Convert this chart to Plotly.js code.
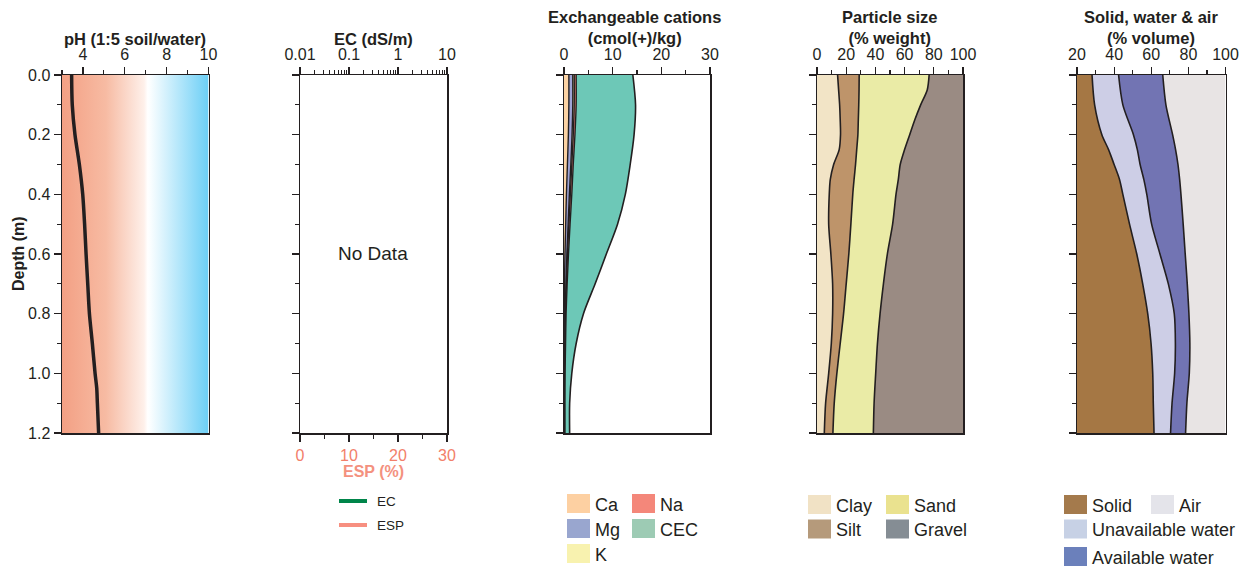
<!DOCTYPE html>
<html>
<head>
<meta charset="utf-8">
<script src="https://cdn.plot.ly/plotly-3.0.1.min.js"></script>
<style>html,body{margin:0;padding:0;background:#fff}#chart{width:1247px;height:570px}</style>
</head>
<body>
<div id="chart"></div>
<script>
// ---------------- DATA ----------------
const phDepth = [0, 0.1, 0.2, 0.3, 0.4, 0.5, 0.6, 0.7, 0.8, 0.9, 1.0, 1.05, 1.1, 1.2];
const phValue = [3.46, 3.49, 3.62, 3.83, 3.99, 4.08, 4.15, 4.23, 4.31, 4.45, 4.58, 4.66, 4.69, 4.75];

const catDepth = [0, 0.1, 0.2, 0.3, 0.4, 0.5, 0.6, 0.7, 0.8, 0.9, 1.0, 1.1, 1.2];
const caVal  = [1.0, 1.0, 0.9, 0.7, 0.5, 0.35, 0.2, 0.1, 0.05, 0.03, 0.02, 0.02, 0.02];
const mgVal  = [0.8, 0.8, 0.75, 0.7, 0.6, 0.5, 0.4, 0.3, 0.2, 0.15, 0.1, 0.08, 0.08];
const kVal   = [0.3, 0.3, 0.25, 0.2, 0.2, 0.15, 0.12, 0.1, 0.08, 0.06, 0.05, 0.05, 0.05];
const naVal  = [0.4, 0.4, 0.35, 0.3, 0.3, 0.25, 0.2, 0.15, 0.1, 0.08, 0.06, 0.05, 0.05];
const cecVal = [14.15, 14.7, 14.4, 13.6, 12.6, 11.0, 8.7, 6.4, 4.0, 2.5, 1.6, 1.16, 1.16];

const psDepth = [0, 0.05, 0.1, 0.15, 0.2, 0.25, 0.3, 0.35, 0.4, 0.5, 0.6, 0.7, 0.8, 0.9, 1.0, 1.1, 1.2];
const clayVal   = [14.1, 14.8, 15.5, 15.9, 16.1, 15.2, 11.4, 9.1, 8.4, 8.0, 9.5, 10.7, 10.7, 9.8, 8.0, 5.9, 5.0];
const siltVal   = [14.8, 14.0, 13.1, 12.4, 11.9, 12.0, 15.0, 16.3, 16.1, 15.2, 12.3, 9.3, 7.5, 6.1, 5.6, 5.9, 5.9];
const sandVal   = [47.9, 46.7, 42.4, 38.7, 35.5, 32.8, 30.6, 30.3, 29.6, 28.6, 26.4, 25.5, 25.0, 25.5, 26.6, 27.3, 27.7];
const gravelVal = [23.2, 24.5, 29.0, 33.0, 36.5, 40.0, 43.0, 44.3, 45.9, 48.2, 51.8, 54.5, 56.8, 58.6, 59.8, 60.9, 61.4];

const swDepth = [0, 0.1, 0.2, 0.25, 0.3, 0.35, 0.4, 0.5, 0.6, 0.7, 0.8, 0.9, 1.0, 1.1, 1.2];
const solidVal   = [28.1, 29.5, 33.4, 37.0, 40.0, 42.9, 44.7, 48.3, 52.2, 55.4, 58.1, 59.9, 60.8, 61.1, 61.5];
const unavailVal = [14.3, 15.2, 17.0, 15.5, 14.0, 13.1, 12.9, 11.9, 12.5, 13.8, 14.3, 13.1, 11.8, 10.1, 8.9];
const availVal   = [23.8, 23.2, 21.1, 20.6, 20.4, 19.3, 18.4, 17.0, 13.6, 10.2, 7.9, 7.8, 7.9, 8.0, 8.1];
const airVal     = [33.8, 32.1, 28.5, 26.9, 25.6, 24.7, 24.0, 22.8, 21.7, 20.6, 19.7, 19.2, 19.5, 20.8, 21.5];

const ecTickVals = [0.01, 0.1, 1, 10];
const ecTickText = ['0.01', '0.1', '1', '10'];

// ---------------- HELPERS ----------------
const W = 1247, H = 570;
const px = v => v / W;
const py = v => 1 - v / H;
const INK = '#231F20';
const FONT = 'Liberation Sans, Arial, Helvetica, sans-serif';

function cumulate(list) {
  const out = []; let run = list[0].map(() => 0);
  list.forEach(arr => { run = run.map((r, i) => r + arr[i]); out.push(run.slice()); });
  return out;
}

function stackTraces(depth, series, colors, xa, ya, names) {
  const cum = cumulate(series);
  return cum.map((c, i) => ({
    type: 'scatter', mode: 'lines', x: c, y: depth, xaxis: xa, yaxis: ya, name: names[i],
    fill: i === 0 ? 'tozerox' : 'tonextx', fillcolor: colors[i],
    line: { color: INK, width: i === cum.length - 1 ? 0 : 1.6, shape: 'spline', smoothing: 0.8 },
    showlegend: false, hoverinfo: 'skip'
  }));
}

const traces = [];
// pH
traces.push({ type: 'scatter', mode: 'lines', x: phValue, y: phDepth, xaxis: 'x', yaxis: 'y',
  line: { color: INK, width: 3.5, shape: 'spline', smoothing: 0.8 }, showlegend: false });
// EC (no data) - placeholders to keep axes
traces.push({ type: 'scatter', mode: 'lines', x: [], y: [], xaxis: 'x2', yaxis: 'y2', showlegend: false });
traces.push({ type: 'scatter', mode: 'lines', x: [], y: [], xaxis: 'x6', yaxis: 'y2', showlegend: false });
// Cations
{
  const cum = cumulate([caVal, mgVal, kVal, naVal]);
  const cols = ['#FCD3A4', '#9FA4D6', '#F8F2AF', '#F4877A'];
  cum.forEach((c, i) => traces.push({ type: 'scatter', mode: 'lines', x: c, y: catDepth, xaxis: 'x3', yaxis: 'y3',
    fill: i === 0 ? 'tozerox' : 'tonextx', fillcolor: cols[i],
    line: { color: INK, width: 1.4, shape: 'spline', smoothing: 0.8 }, showlegend: false }));
  traces.push({ type: 'scatter', mode: 'lines', x: cecVal, y: catDepth, xaxis: 'x3', yaxis: 'y3',
    fill: 'tonextx', fillcolor: '#6DC8B7',
    line: { color: INK, width: 1.6, shape: 'spline', smoothing: 0.8 }, showlegend: false });
}
// Particle size
traces.push(...stackTraces(psDepth, [clayVal, siltVal, sandVal, gravelVal],
  ['#F2E4C6', '#BE946A', '#EAEBA6', '#9A8B83'], 'x4', 'y4', ['Clay', 'Silt', 'Sand', 'Gravel']));
// Solid, water & air
traces.push(...stackTraces(swDepth, [solidVal, unavailVal, availVal, airVal],
  ['#A57744', '#CDCEE6', '#7274B3', '#E8E4E4'], 'x5', 'y5', ['Solid', 'Unavailable water', 'Available water', 'Air']));

// ---------------- LAYOUT ----------------
const yDom = [py(433), py(75)];
const tickfont = { family: FONT, size: 16, color: INK };
const base = { showline: true, linecolor: INK, linewidth: 1.5, showgrid: false, zeroline: false,
  ticks: 'outside', tickcolor: INK, tickwidth: 1.2, ticklen: 7, tickfont: tickfont, fixedrange: true };

function yAx(xa, labels) {
  return Object.assign({}, base, { domain: yDom, range: [1.2, 0], tick0: 0, dtick: 0.2, anchor: xa, mirror: true,
    showticklabels: labels, tickformat: '.1f',
    minor: { ticks: 'outside', ticklen: 4, dtick: 0.1, tickcolor: INK, tickwidth: 1.2, showgrid: false } });
}
function xTop(dom, ya, range, dtick, mdtick, tick0) {
  return Object.assign({}, base, { domain: dom, anchor: ya, side: 'top', mirror: true, range: range,
    tick0: tick0, dtick: dtick,
    minor: { ticks: 'outside', ticklen: 4, dtick: mdtick, tick0: tick0, tickcolor: INK, tickwidth: 1.2, showgrid: false } });
}

const ecMinor = [];
[0.01, 0.1, 1].forEach(d => { for (let m = 2; m <= 9; m++) ecMinor.push(+(d * m).toPrecision(3)); });

const dom1 = [px(62), px(208.5)], dom2 = [px(300), px(447)], dom3 = [px(564), px(710)],
      dom4 = [px(817), px(963)], dom5 = [px(1077), px(1225.5)];

const annotations = [];
const shapes = [];
function txt(x, y, text, opts) {
  annotations.push(Object.assign({ xref: 'paper', yref: 'paper', x: px(x), y: py(y), text: text, showarrow: false,
    xanchor: 'center', yanchor: 'middle', font: { family: FONT, size: 16.5, color: INK } }, opts || {}));
}
txt(135, 39, '<b>pH (1:5 soil/water)</b>');
txt(373.5, 39, '<b>EC (dS/m)</b>');
txt(634, 27.5, '<b>Exchangeable cations<br>(cmol(+)/kg)</b>');
txt(889, 27.5, '<b>Particle size<br>(% weight)</b>');
txt(1151, 27.5, '<b>Solid, water &amp; air<br>(% volume)</b>');
txt(18, 254, '<b>Depth (m)</b>', { textangle: -90, font: { family: FONT, size: 16, color: INK } });
txt(373.5, 253, 'No Data', { font: { family: FONT, size: 19, color: INK } });
txt(373.5, 471, '<b>ESP (%)</b>', { font: { family: FONT, size: 16, color: '#F4917E' } });

// legends
function lineKey(x0, x1, y, color, label) {
  shapes.push({ type: 'line', xref: 'paper', yref: 'paper', x0: px(x0), x1: px(x1), y0: py(y), y1: py(y),
    line: { color: color, width: 4 } });
  txt(x1 + 8, y, label, { xanchor: 'left', font: { family: FONT, size: 13.5, color: INK } });
}
lineKey(339, 367, 501, '#00854A', 'EC');
lineKey(339, 367, 525, '#F78F80', 'ESP');

function boxKey(x0, yc, color, label) {
  shapes.push({ type: 'rect', xref: 'paper', yref: 'paper', x0: px(x0), x1: px(x0 + 23), y0: py(yc - 9.5), y1: py(yc + 9.5),
    fillcolor: color, line: { width: 0 } });
  txt(x0 + 26, yc + 1, label, { xanchor: 'left', font: { family: FONT, size: 18, color: INK } });
}
boxKey(567, 503.5, '#FDD0A2', 'Ca');
boxKey(632, 503.5, '#F4877A', 'Na');
boxKey(567, 528.5, '#99A6CF', 'Mg');
boxKey(632, 528.5, '#9DCBB4', 'CEC');
boxKey(567, 553.5, '#F8F2AF', 'K');

boxKey(808, 504.5, '#F1E2C5', 'Clay');
boxKey(886, 504.5, '#EAE28F', 'Sand');
boxKey(808, 529, '#B59A7B', 'Silt');
boxKey(886, 529, '#858D94', 'Gravel');

boxKey(1064, 504.5, '#A47A4C', 'Solid');
boxKey(1151, 504.5, '#E4E4EA', 'Air');
boxKey(1064, 529, '#C7D1E5', 'Unavailable water');
boxKey(1064, 556.5, '#6B80BB', 'Available water');

// pH background gradient
const grad = '<svg xmlns="http://www.w3.org/2000/svg" width="700" height="100" preserveAspectRatio="none">' +
  '<defs><linearGradient id="g" x1="0" y1="0" x2="1" y2="0">' +
  '<stop offset="0" stop-color="#F3A084"/>' +
  '<stop offset="0.3" stop-color="#F7BBA3"/>' +
  '<stop offset="0.56" stop-color="#FEF0EA"/>' +
  '<stop offset="0.585" stop-color="#FFFFFF"/>' +
  '<stop offset="0.6" stop-color="#FBFEFF"/>' +
  '<stop offset="1" stop-color="#6CCFF6"/>' +
  '</linearGradient></defs><rect x="0" y="0" width="700" height="100" fill="url(#g)"/></svg>';

const layout = {
  width: W, height: H, margin: { l: 0, r: 0, t: 0, b: 0 },
  paper_bgcolor: '#FFFFFF', plot_bgcolor: 'rgba(0,0,0,0)', showlegend: false,
  font: { family: FONT, color: INK },
  xaxis: xTop(dom1, 'y', [3, 10], 2, 1, 0),
  xaxis2: Object.assign({}, base, { domain: dom2, anchor: 'y2', side: 'top', mirror: true, type: 'log', range: [-2, 1],
    tickmode: 'array', tickvals: ecTickVals, ticktext: ecTickText,
    minor: { ticks: 'outside', ticklen: 4, tickmode: 'array', tickvals: ecMinor, tickcolor: INK, tickwidth: 1.2, showgrid: false } }),
  xaxis6: Object.assign({}, base, { overlaying: 'x2', anchor: 'y2', side: 'bottom', range: [0, 30], tick0: 0, dtick: 10,
    tickfont: { family: FONT, size: 16, color: '#F2806A' },
    minor: { ticks: 'outside', ticklen: 4, dtick: 5, tickcolor: INK, tickwidth: 1.2, showgrid: false } }),
  xaxis3: xTop(dom3, 'y3', [0, 30], 10, 5, 0),
  xaxis4: xTop(dom4, 'y4', [0, 100], 20, 10, 0),
  xaxis5: xTop(dom5, 'y5', [20, 100], 20, 10, 0),
  yaxis: yAx('x', true),
  yaxis2: yAx('x2', false),
  yaxis3: yAx('x3', false),
  yaxis4: yAx('x4', false),
  yaxis5: yAx('x5', false),
  images: [{ source: 'data:image/svg+xml;charset=utf-8,' + encodeURIComponent(grad),
    xref: 'paper', yref: 'paper', x: dom1[0], y: yDom[1], sizex: dom1[1] - dom1[0], sizey: yDom[1] - yDom[0],
    xanchor: 'left', yanchor: 'top', sizing: 'stretch', layer: 'below' }],
  annotations: annotations, shapes: shapes
};

Plotly.newPlot('chart', traces, layout, { staticPlot: true, displayModeBar: false });
</script>
</body>
</html>
